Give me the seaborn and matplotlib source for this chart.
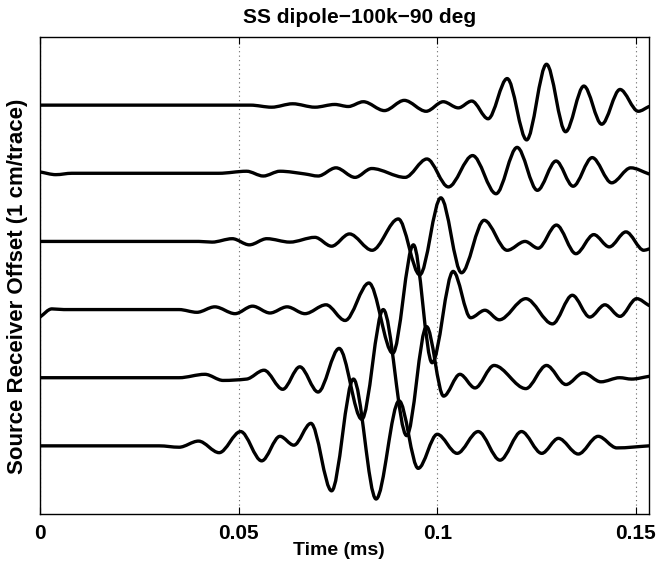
import numpy as np
import pandas as pd
import matplotlib
matplotlib.use("Agg")
import matplotlib.pyplot as plt
from matplotlib.path import Path
from matplotlib.patches import PathPatch
import seaborn as sns

# ---- data (time in ms, amplitude in trace units) ----
# trace at offset 1 (bottom)
t1 = [0.0, 0.030, 0.035, 0.0399, 0.0451, 0.0505, 0.0558, 0.0604, 0.0639, 0.0682,
      0.0734, 0.0789, 0.0846, 0.0904, 0.0952, 0.1000, 0.1050, 0.1103, 0.1158,
      0.1212, 0.1263, 0.1305, 0.1355, 0.1405, 0.1452, 0.1533]
a1 = [0.0, 0.0, -0.02, 0.07, -0.10, 0.21, -0.22, 0.14, 0.01, 0.33,
      -0.66, 0.98, -0.78, 0.66, -0.33, 0.17, -0.11, 0.21, -0.21,
      0.21, -0.11, 0.11, -0.12, 0.14, -0.03, 0.0]
# offset 2
t2 = [0.0, 0.035, 0.0415, 0.0461, 0.052, 0.0564, 0.0611, 0.0654, 0.0700, 0.0753,
      0.0810, 0.0864, 0.0923, 0.0973, 0.1016, 0.1057, 0.1095, 0.1143, 0.1223,
      0.1275, 0.1324, 0.1368, 0.1412, 0.1459, 0.1489, 0.1533]
a2 = [0.0, 0.0, 0.05, -0.04, -0.02, 0.11, -0.17, 0.16, -0.21, 0.43,
      -0.61, 1.00, -0.85, 0.75, -0.27, 0.05, -0.15, 0.18, -0.16,
      0.18, -0.10, 0.07, -0.06, 0.0, -0.02, 0.02]
# offset 3
t3 = [0.0, 0.003, 0.006, 0.035, 0.0395, 0.044, 0.0491, 0.0535, 0.0579, 0.0622,
      0.0667, 0.0720, 0.0768, 0.0828, 0.0888, 0.0940, 0.0987, 0.1040, 0.1084,
      0.1120, 0.1156, 0.1223, 0.1290, 0.1340, 0.1384, 0.1422, 0.1460, 0.1502, 0.1533]
a3 = [-0.11, 0.01, 0.0, 0.0, -0.04, 0.04, -0.06, 0.05, -0.05, 0.04,
      -0.06, 0.07, -0.16, 0.39, -0.64, 0.95, -0.78, 0.56, -0.12,
      -0.01, -0.15, 0.16, -0.21, 0.21, -0.11, 0.07, -0.10, 0.16, 0.06]
# offset 4
t4 = [0.0, 0.040, 0.0433, 0.0484, 0.0527, 0.0571, 0.0629, 0.0692, 0.0734, 0.0779,
      0.0836, 0.0902, 0.0956, 0.1009, 0.1061, 0.1118, 0.1176, 0.1221, 0.1254,
      0.1300, 0.1349, 0.1394, 0.1433, 0.1475, 0.1520, 0.1533]
a4 = [0.0, 0.0, -0.01, 0.04, -0.05, 0.04, -0.01, 0.06, -0.07, 0.11,
      -0.13, 0.33, -0.49, 0.64, -0.46, 0.31, -0.13, 0.0, -0.10,
      0.24, -0.18, 0.10, -0.08, 0.14, -0.13, -0.11]
# offset 5
t5 = [0.0, 0.004, 0.008, 0.045, 0.052, 0.0562, 0.0604, 0.0667, 0.0700, 0.0745,
      0.0793, 0.0835, 0.0919, 0.0974, 0.1028, 0.1089, 0.1148, 0.1201, 0.1252,
      0.1299, 0.1342, 0.1390, 0.1439, 0.1487, 0.1533]
a5 = [0.02, -0.02, 0.0, 0.0, 0.03, -0.04, 0.03, -0.01, -0.04, 0.08,
      -0.06, 0.07, -0.06, 0.21, -0.20, 0.26, -0.30, 0.38, -0.25,
      0.18, -0.19, 0.23, -0.14, 0.08, -0.01]
# offset 6 (top)
t6 = [0.0, 0.053, 0.0583, 0.0636, 0.0692, 0.0742, 0.0776, 0.0814, 0.0867, 0.0917,
      0.0972, 0.1015, 0.1053, 0.1087, 0.1128, 0.1176, 0.1225, 0.1275, 0.1323,
      0.1369, 0.1414, 0.1460, 0.1506, 0.1533]
a6 = [0.0, 0.0, -0.03, 0.02, -0.03, 0.01, -0.02, 0.05, -0.08, 0.07,
      -0.09, 0.05, -0.04, 0.06, -0.20, 0.39, -0.51, 0.60, -0.39,
      0.28, -0.28, 0.23, -0.09, -0.02]

offsets = [1, 2, 3, 4, 5, 6]
times = [t1, t2, t3, t4, t5, t6]
amps = [a1, a2, a3, a4, a5, a6]

title = "SS dipole\u2212100k\u221290 deg"
xlabel = "Time (ms)"
ylabel = "Source Receiver Offset (1 cm/trace)"
xticks = [0, 0.05, 0.1, 0.15]
xticklabels = ["0", "0.05", "0.1", "0.15"]

frames = []
for off, t, a in zip(offsets, times, amps):
    frames.append(pd.DataFrame({"time": t, "y": np.array(a) + off, "trace": off}))
df = pd.concat(frames, ignore_index=True)

sns.set_theme(style="white", rc={
    "text.color": "black", "axes.labelcolor": "black",
    "xtick.color": "black", "ytick.color": "black", "axes.edgecolor": "black",
})
plt.rcParams["font.family"] = ["Liberation Sans", "DejaVu Sans"]
plt.rcParams["font.weight"] = "bold"


def smooth_path(x, y):
    """Monotone cubic (Fritsch-Carlson) Bezier path through the read points."""
    x = np.asarray(x, float)
    y = np.asarray(y, float)
    h = np.diff(x)
    d = np.diff(y) / h
    n = len(x)
    m = np.zeros(n)
    m[0], m[-1] = d[0], d[-1]
    for k in range(1, n - 1):
        if d[k - 1] * d[k] <= 0:
            m[k] = 0.0
        else:
            w1 = 2 * h[k] + h[k - 1]
            w2 = h[k] + 2 * h[k - 1]
            m[k] = (w1 + w2) / (w1 / d[k - 1] + w2 / d[k])
    verts = [(x[0], y[0])]
    codes = [Path.MOVETO]
    for k in range(n - 1):
        verts += [(x[k] + h[k] / 3, y[k] + m[k] * h[k] / 3),
                  (x[k + 1] - h[k] / 3, y[k + 1] - m[k + 1] * h[k] / 3),
                  (x[k + 1], y[k + 1])]
        codes += [Path.CURVE4] * 3
    return Path(verts, codes)


fig = plt.figure(figsize=(6.6, 5.67), dpi=100)
ax = fig.add_axes([40 / 660, 1 - 514 / 567, (649 - 40) / 660, (514 - 37) / 567])

for off in offsets:
    sub = df[df["trace"] == off]
    sns.lineplot(data=sub, x="time", y="y", ax=ax, color="black", linewidth=2.4,
                 sort=False, estimator=None)
# render each seaborn trace as a smooth curve through its points
for line in list(ax.lines):
    xd, yd = line.get_xdata(), line.get_ydata()
    line.set_visible(False)
    patch = PathPatch(smooth_path(xd, yd), facecolor="none", edgecolor="black",
                      linewidth=2.4, joinstyle="round", capstyle="round",
                      transform=ax.transData)
    ax.add_patch(patch)

ax.set_xlim(0, 0.1533)
ax.set_ylim(0, 7)
ax.set_xticks(xticks)
ax.set_xticklabels(xticklabels, fontsize=15, fontweight="bold")
ax.set_yticks([])
ax.grid(axis="x", linestyle=(0, (1, 3)), color="0.4", linewidth=0.8)
ax.tick_params(axis="x", direction="in", top=True, bottom=True, length=5,
               width=0.8, color="black", pad=7)
for sp in ax.spines.values():
    sp.set_color("black")
    sp.set_linewidth(1.0)

ax.set_title(title, fontsize=15, fontweight="bold", pad=10, x=0.525)
ax.set_xlabel(xlabel, fontsize=14, fontweight="bold")
ax.xaxis.set_label_coords(0.49, -0.058)
ax.xaxis.label.set_va("top")
ax.set_ylabel(ylabel, fontsize=16, fontweight="bold")
ax.yaxis.set_label_coords(-0.019, 0.478)

fig.savefig("out.png", dpi=100)
